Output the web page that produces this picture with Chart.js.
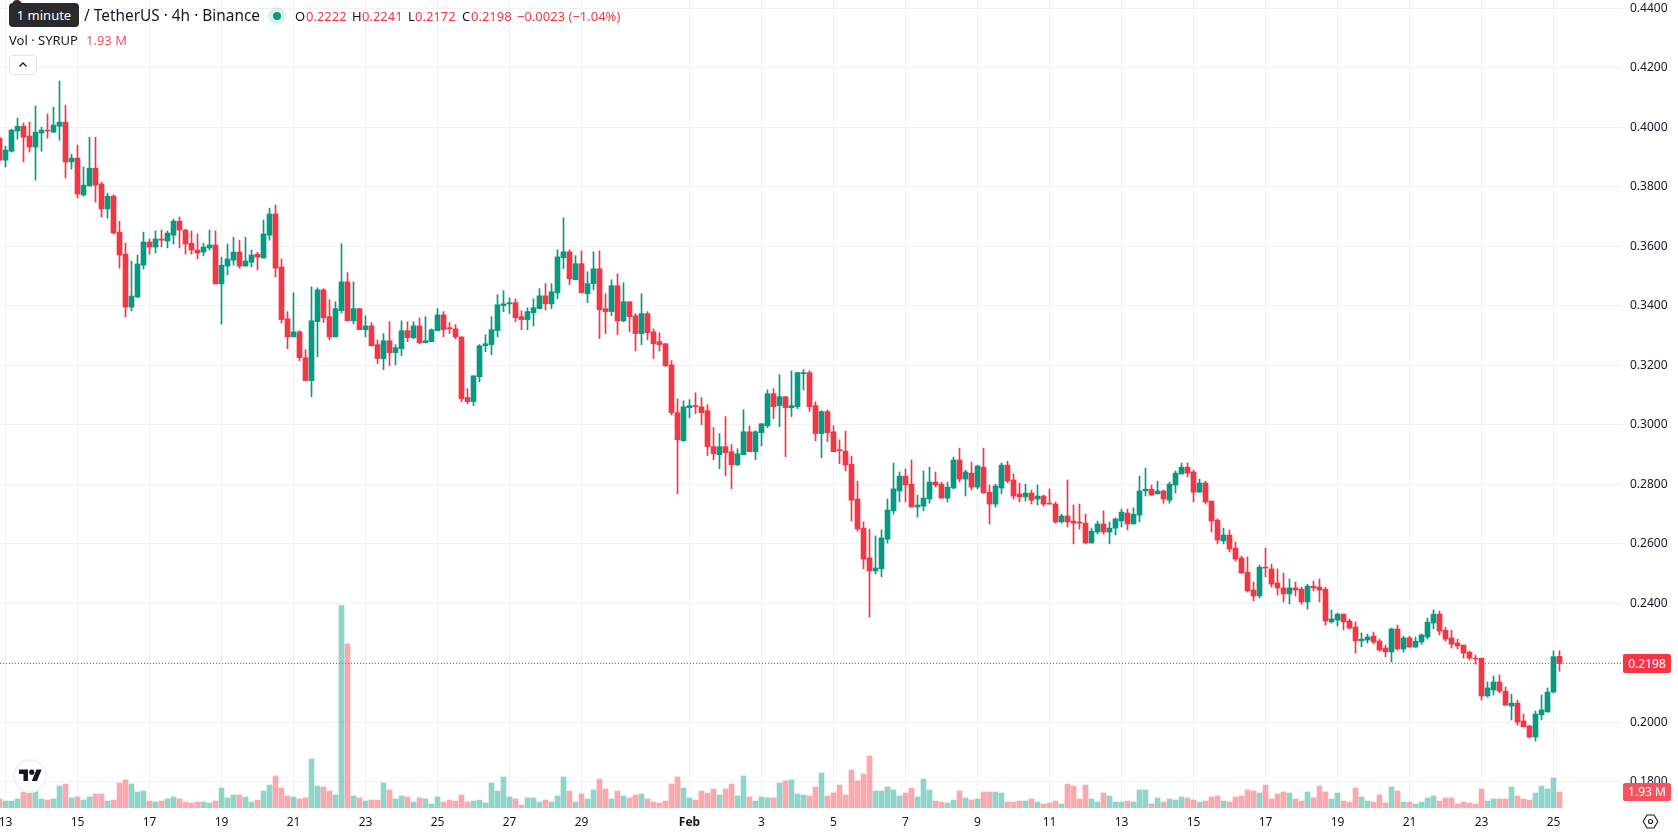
<!DOCTYPE html>
<html lang="en">
<head>
  <meta charset="UTF-8">
  <title>SYRUP / TetherUS 4h</title>
  <script src="https://cdn.jsdelivr.net/npm/chart.js"></script>
  <style>
    html, body { margin: 0; background: #fff; overflow: hidden; }
    body { width: 1678px; height: 835px; position: relative; font-family: "Noto Sans", sans-serif; color: #131722; }
    canvas { display: block; position: absolute; left: 0; top: 0; }
    .txt { position: absolute; white-space: nowrap; font-size: 13px; line-height: 18px; }
    .up { color: #f23645; }
    #hint { position: absolute; left: 9px; top: 3px; width: 70px; height: 24px; background: #2a2a2c; border-radius: 4px;
            color: #fff; font-size: 13px; line-height: 24px; text-align: center; }
    #hint:before { content: ""; position: absolute; left: 3px; top: -3px; width: 10px; height: 5px; background: #2a2a2c; border-radius: 5px 5px 0 0; }
    #dot { position: absolute; left: 268px; top: 7px; width: 18px; height: 18px; border-radius: 50%; background: rgba(8,153,129,.14); }
    #dot:after { content: ""; position: absolute; left: 5px; top: 5px; width: 8px; height: 8px; border-radius: 50%; background: #089981; }
    #toggle { position: absolute; left: 9px; top: 55px; width: 28px; height: 20px; border: 1px solid #e0e3eb; border-radius: 4px; box-sizing: border-box; background: #fff; }
    #logo { position: absolute; left: 13px; top: 759px; width: 34px; height: 34px; border-radius: 50%; background: #fff; border: 2px solid #f0f3fa; box-sizing: border-box; }
    .tag { position: absolute; left: 1623px; width: 48px; color: #fff; font-size: 12px; text-align: center; border-radius: 2px; }
  </style>
</head>
<body>
  <canvas id="chart" width="1678" height="835"></canvas>

  <div id="hint">1 minute</div>
  <div class="txt" style="left:84px;top:5px;font-size:15.4px;line-height:22px">/ TetherUS · 4h · Binance</div>
  <div id="dot"></div>
  <div class="txt" style="left:295px;top:7px">O</div><div class="txt up" id="o" style="left:306px;top:7px"></div>
  <div class="txt" style="left:352px;top:7px">H</div><div class="txt up" id="h" style="left:362px;top:7px"></div>
  <div class="txt" style="left:408px;top:7px">L</div><div class="txt up" id="l" style="left:415px;top:7px"></div>
  <div class="txt" style="left:462px;top:7px">C</div><div class="txt up" id="c" style="left:471px;top:7px"></div>
  <div class="txt up" id="chg" style="left:517px;top:7px"></div>
  <div class="txt" style="left:9px;top:31px">Vol · SYRUP</div>
  <div class="txt" id="vol" style="left:86px;top:31px;color:#f7525f"></div>
  <div id="toggle">
    <svg width="26" height="18" viewBox="0 0 26 18"><path d="M9.5 10.5 13 7l3.5 3.5" fill="none" stroke="#131722" stroke-width="1.3"/></svg>
  </div>
  <div id="logo">
    <svg style="position:absolute;left:4px;top:6px" width="23" height="18" viewBox="0 0 36 28" fill="#131722">
      <path d="M14 22H7V11H0V4h14v18zM28 22h-8l7.5-18h8L28 22z"/><circle cx="20" cy="8" r="4"/>
    </svg>
  </div>
  <div class="tag" id="lastTag" style="top:654px;height:19px;line-height:19px;background:#f23645"></div>
  <div class="tag" id="volTag" style="top:783px;height:18px;line-height:18px;background:#f7525f"></div>
  <svg style="position:absolute;left:1642px;top:813px" width="17" height="17" viewBox="0 0 17 17" fill="none" stroke="#131722" stroke-width="1.1">
    <path d="M5 2h7l3.8 6.5L12 15H5L1.2 8.5z"/><circle cx="8.5" cy="8.5" r="2"/>
  </svg>

  <script>
    // 4h candles, first one starts just before the 13th
    const firstIndex = -1;

    const opens = [
      .3964,.3890,.3920,.3988,.4004,.3971,.3934,.3981,.3991,.3984,.4004,.4018,
      .3884,.3897,.3773,.3803,.3863,.3810,.3726,.3769,.3648,.3574,.3396,.3430,
      .3537,.3615,.3598,.3625,.3618,.3638,.3685,.3655,.3611,.3588,.3581,.3595,
      .3605,.3474,.3534,.3554,.3581,.3534,.3547,.3574,.3561,.3638,.3709,.3531,
      .3357,.3296,.3313,.3226,.3149,.3347,.3454,.3364,.3296,.3384,.3481,.3350,
      .3391,.3320,.3333,.3270,.3223,.3283,.3243,.3256,.3317,.3293,.3333,.3276,
      .3280,.3317,.3370,.3327,.3323,.3296,.3092,.3078,.3162,.3266,.3270,.3317,
      .3401,.3407,.3411,.3364,.3354,.3377,.3391,.3434,.3407,.3444,.3562,.3582,
      .3488,.3542,.3441,.3475,.3525,.3391,.3381,.3468,.3350,.3414,.3367,.3307,
      .3374,.3313,.3280,.3273,.3202,.3041,.2947,.3058,.3065,.3061,.3048,.2927,
      .2900,.2927,.2910,.2866,.2900,.2977,.2910,.2974,.2997,.3105,.3065,.3095,
      .3058,.3061,.3172,.3176,.3065,.2971,.3045,.2977,.2917,.2912,.2868,.2751,
      .2653,.2553,.2509,.2516,.2616,.2711,.2778,.2828,.2801,.2724,.2727,.2751,
      .2808,.2801,.2754,.2788,.2882,.2818,.2838,.2791,.2858,.2774,.2734,.2788,
      .2865,.2815,.2768,.2758,.2771,.2751,.2761,.2737,.2734,.2674,.2694,.2677,
      .2674,.2670,.2603,.2640,.2667,.2640,.2653,.2677,.2704,.2667,.2697,.2778,
      .2784,.2768,.2778,.2747,.2798,.2835,.2858,.2842,.2774,.2805,.2744,.2680,
      .2610,.2630,.2586,.2553,.2505,.2445,.2425,.2522,.2516,.2469,.2452,.2432,
      .2452,.2448,.2405,.2458,.2455,.2448,.2338,.2344,.2364,.2341,.2321,.2274,
      .2277,.2290,.2274,.2250,.2237,.2314,.2247,.2284,.2253,.2270,.2287,.2334,
      .2364,.2310,.2284,.2267,.2260,.2236,.2216,.2216,.2089,.2109,.2136,.2105,
      .2055,.2065,.2005,.1988,.1951,.2025,.2035,.2102,.2222
    ];
    const highs = [
      .3969,.3937,.3994,.4031,.4015,.4018,.4072,.4001,.4045,.4068,.4156,.4075,
      .3910,.3941,.3867,.3967,.3967,.3816,.3779,.3773,.3685,.3611,.3551,.3571,
      .3648,.3625,.3652,.3655,.3652,.3692,.3699,.3658,.3652,.3642,.3611,.3655,
      .3652,.3564,.3608,.3631,.3621,.3631,.3588,.3581,.3689,.3729,.3739,.3558,
      .3381,.3444,.3317,.3253,.3464,.3461,.3458,.3421,.3414,.3609,.3512,.3481,
      .3391,.3367,.3344,.3286,.3307,.3347,.3270,.3350,.3347,.3347,.3360,.3364,
      .3323,.3391,.3381,.3344,.3337,.3296,.3122,.3165,.3270,.3303,.3364,.3438,
      .3451,.3427,.3424,.3384,.3394,.3424,.3458,.3475,.3475,.3589,.3696,.3589,
      .3569,.3585,.3515,.3582,.3585,.3441,.3488,.3508,.3478,.3414,.3374,.3441,
      .3381,.3323,.3310,.3273,.3216,.3088,.3081,.3085,.3108,.3092,.3068,.2991,
      .2971,.3028,.2934,.2920,.3051,.2997,.2981,.3004,.3118,.3122,.3169,.3095,
      .3182,.3176,.3186,.3182,.3078,.3048,.3051,.2997,.2950,.2979,.2895,.2811,
      .2674,.2650,.2627,.2647,.2751,.2872,.2842,.2852,.2882,.2764,.2845,.2858,
      .2842,.2808,.2808,.2892,.2922,.2848,.2875,.2865,.2922,.2798,.2801,.2872,
      .2878,.2835,.2805,.2801,.2781,.2798,.2764,.2785,.2741,.2700,.2815,.2731,
      .2734,.2700,.2653,.2677,.2711,.2674,.2687,.2717,.2717,.2721,.2828,.2855,
      .2798,.2811,.2781,.2808,.2845,.2872,.2872,.2848,.2818,.2811,.2744,.2684,
      .2653,.2647,.2606,.2559,.2556,.2472,.2529,.2586,.2532,.2516,.2502,.2482,
      .2472,.2455,.2465,.2475,.2482,.2455,.2378,.2368,.2364,.2348,.2338,.2301,
      .2297,.2304,.2280,.2260,.2317,.2327,.2290,.2290,.2287,.2297,.2351,.2378,
      .2374,.2320,.2310,.2280,.2260,.2240,.2226,.2216,.2136,.2156,.2159,.2119,
      .2095,.2075,.2028,.1991,.2038,.2092,.2116,.2240,.2241
    ];
    const lows = [
      .3885,.3867,.3917,.3961,.3884,.3917,.3823,.3920,.3964,.3984,.3957,.3830,
      .3860,.3763,.3769,.3803,.3749,.3699,.3695,.3642,.3527,.3363,.3383,.3427,
      .3524,.3574,.3578,.3598,.3595,.3608,.3595,.3574,.3574,.3558,.3568,.3588,
      .3474,.3339,.3504,.3537,.3527,.3534,.3531,.3521,.3561,.3621,.3497,.3343,
      .3256,.3296,.3216,.3149,.3095,.3229,.3344,.3286,.3296,.3377,.3350,.3340,
      .3320,.3296,.3266,.3206,.3186,.3199,.3202,.3233,.3280,.3290,.3273,.3276,
      .3280,.3317,.3296,.3307,.3290,.3078,.3071,.3065,.3145,.3246,.3236,.3296,
      .3381,.3374,.3347,.3320,.3320,.3333,.3391,.3387,.3391,.3424,.3525,.3471,
      .3488,.3444,.3411,.3454,.3290,.3307,.3367,.3303,.3347,.3313,.3249,.3270,
      .3286,.3223,.3249,.3196,.3034,.2769,.2944,.3024,.3038,.3001,.2897,.2883,
      .2853,.2829,.2786,.2863,.2900,.2910,.2883,.2930,.2991,.3021,.2994,.2893,
      .3028,.3055,.3118,.3045,.2947,.2890,.2944,.2910,.2870,.2845,.2677,.2643,
      .2516,.2354,.2499,.2489,.2603,.2700,.2741,.2741,.2724,.2690,.2711,.2737,
      .2791,.2754,.2741,.2785,.2808,.2761,.2781,.2785,.2771,.2667,.2724,.2768,
      .2805,.2751,.2741,.2744,.2734,.2731,.2727,.2734,.2670,.2670,.2657,.2600,
      .2650,.2600,.2603,.2633,.2633,.2600,.2630,.2657,.2647,.2667,.2674,.2761,
      .2764,.2768,.2737,.2737,.2771,.2835,.2825,.2741,.2774,.2734,.2640,.2600,
      .2600,.2573,.2542,.2502,.2438,.2408,.2418,.2489,.2455,.2428,.2405,.2398,
      .2425,.2398,.2381,.2442,.2405,.2327,.2334,.2324,.2311,.2314,.2233,.2254,
      .2267,.2264,.2240,.2220,.2203,.2243,.2236,.2253,.2253,.2263,.2280,.2314,
      .2294,.2273,.2250,.2247,.2216,.2210,.2196,.2075,.2085,.2092,.2099,.2058,
      .2008,.1991,.1985,.1948,.1937,.2008,.2035,.2099,.2172
    ];
    const closes = [
      .3890,.3924,.3991,.4004,.3967,.3934,.3984,.3991,.3988,.4008,.4018,.3884,
      .3897,.3776,.3806,.3863,.3806,.3726,.3769,.3645,.3571,.3396,.3433,.3541,
      .3615,.3598,.3625,.3621,.3645,.3685,.3655,.3608,.3588,.3578,.3598,.3605,
      .3474,.3537,.3558,.3581,.3534,.3551,.3571,.3564,.3642,.3709,.3527,.3354,
      .3296,.3313,.3226,.3149,.3350,.3454,.3360,.3296,.3391,.3481,.3350,.3391,
      .3320,.3333,.3266,.3223,.3283,.3243,.3260,.3317,.3293,.3333,.3276,.3283,
      .3320,.3370,.3320,.3323,.3296,.3088,.3078,.3165,.3266,.3273,.3320,.3404,
      .3407,.3411,.3360,.3354,.3381,.3394,.3434,.3407,.3448,.3565,.3582,.3491,
      .3542,.3444,.3475,.3525,.3387,.3381,.3468,.3350,.3414,.3364,.3307,.3374,
      .3310,.3273,.3270,.3199,.3041,.2950,.3061,.3065,.3061,.3041,.2927,.2903,
      .2927,.2907,.2866,.2903,.2977,.2910,.2977,.3004,.3105,.3061,.3095,.3058,
      .3065,.3176,.3176,.3061,.2971,.3045,.2974,.2910,.2913,.2865,.2747,.2650,
      .2549,.2509,.2519,.2620,.2714,.2785,.2828,.2798,.2724,.2731,.2754,.2808,
      .2798,.2754,.2791,.2882,.2818,.2842,.2791,.2862,.2771,.2734,.2795,.2865,
      .2811,.2761,.2758,.2771,.2747,.2761,.2734,.2734,.2674,.2694,.2674,.2670,
      .2670,.2603,.2643,.2667,.2640,.2653,.2684,.2707,.2667,.2700,.2778,.2784,
      .2764,.2778,.2751,.2801,.2838,.2858,.2838,.2774,.2805,.2741,.2677,.2613,
      .2630,.2583,.2549,.2502,.2442,.2425,.2522,.2519,.2465,.2452,.2432,.2452,
      .2445,.2405,.2458,.2452,.2445,.2341,.2348,.2364,.2338,.2317,.2274,.2280,
      .2287,.2270,.2243,.2237,.2314,.2247,.2284,.2253,.2273,.2294,.2337,.2364,
      .2307,.2280,.2263,.2257,.2233,.2216,.2213,.2089,.2116,.2136,.2105,.2058,
      .2065,.2001,.1985,.1951,.2028,.2042,.2102,.2221,.2198
    ];
    // volume in millions of SYRUP
    const volumes = [
      1.09,.84,.84,1.09,1.93,1.81,2.05,1.09,.96,1.09,2.65,2.89,
      1.21,1.33,.96,1.33,1.69,1.69,.84,.96,3.02,3.38,2.89,1.93,
      2.05,.84,.72,.84,1.09,1.33,1.09,.72,.60,.72,.72,.60,
      .84,2.41,1.21,1.57,1.57,1.33,.72,.96,2.05,2.77,3.86,2.41,
      1.45,1.33,1.09,1.21,5.91,2.65,2.53,2.05,1.57,24.4,19.8,1.45,
      1.21,.84,.96,.96,3.02,2.17,1.09,1.45,1.33,.72,1.21,1.09,
      .48,1.33,.72,.96,.84,1.57,.72,.84,.96,.60,3.02,2.05,
      3.74,1.33,1.09,.36,1.21,1.21,.72,.96,.72,1.45,3.74,2.05,
      .72,1.69,1.09,2.17,3.50,2.29,1.09,2.05,1.45,1.21,1.57,1.69,
      1.09,.72,.60,.84,2.89,3.74,2.41,1.21,.96,2.05,1.81,2.29,
      1.57,2.29,2.89,1.45,3.86,1.33,.84,1.33,1.21,1.21,3.02,3.26,
      3.38,1.69,1.57,1.45,2.53,4.22,1.45,1.81,2.77,1.57,4.58,3.26,
      4.10,6.27,2.05,2.05,2.53,2.17,1.45,1.81,2.41,1.33,3.50,2.17,
      .84,.72,.60,.96,2.05,1.21,.96,1.09,1.93,1.93,1.93,1.81,
      .72,.72,.84,.84,1.09,.72,.48,.60,.84,.48,2.89,2.65,
      1.09,2.77,1.09,.72,1.81,1.45,.72,.72,.84,.72,2.17,2.17,
      .48,1.21,.72,1.09,.96,1.33,1.21,.96,.72,.84,1.33,1.45,
      .84,.72,1.33,1.45,2.17,2.05,1.81,2.77,1.09,1.69,1.93,1.81,
      1.09,.84,1.93,1.21,2.65,1.93,1.09,1.81,.84,.72,2.41,1.33,
      .84,.72,1.57,.60,2.53,2.05,.72,.72,.48,.72,1.21,1.45,
      .84,1.21,1.21,.48,.72,.60,.48,2.29,.84,1.09,1.09,1.09,
      2.53,1.45,1.09,.96,1.81,2.65,2.29,3.62,1.93
    ];

    const dayLabels  = ['13','15','17','19','21','23','25','27','29','Feb','3','5','7','9','11','13','15','17','19','21','23','25'];
    const dayIndexes = [0,12,24,36,48,60,72,84,96,114,126,138,150,162,174,186,198,210,222,234,246,258];
    const priceTicks = [.18,.20,.22,.24,.26,.28,.30,.32,.34,.36,.38,.40,.42,.44];

    const UP = '#089981', DOWN = '#f23645';
    const FONT = '"Noto Sans", sans-serif';

    const last = opens.length - 1;
    const lastClose = closes[last];
    const prevClose = closes[last - 1];
    const lastVolume = volumes[last];

    // pane is 1622px wide with 6px per candle, the 13th sits at x=5.5
    const xMin = -5.5 / 6;
    const xMax = (1622 - 5.5) / 6;

    const xOf = i => firstIndex + i;
    const isUp = i => closes[i] >= opens[i];

    const datasets = [
      {
        type: 'line',
        data: [{ x: xMin, y: lastClose }, { x: xMax, y: lastClose }],
        yAxisID: 'y',
        borderColor: DOWN,
        borderWidth: 1,
        borderDash: [1, 2],
        pointRadius: 0,
        order: 0
      },
      {
        data: opens.map((o, i) => ({ x: xOf(i), y: [o, closes[i]] })),
        yAxisID: 'y',
        backgroundColor: opens.map((o, i) => isUp(i) ? UP : DOWN),
        barThickness: 5,
        grouped: false,
        order: 1
      },
      {
        data: highs.map((h, i) => ({ x: xOf(i), y: [lows[i], h] })),
        yAxisID: 'y',
        backgroundColor: opens.map((o, i) => isUp(i) ? UP : DOWN),
        barThickness: 1,
        grouped: false,
        order: 2
      },
      {
        data: volumes.map((v, i) => ({ x: xOf(i), y: v })),
        yAxisID: 'yVol',
        backgroundColor: opens.map((o, i) => isUp(i) ? 'rgba(34,171,148,.5)' : 'rgba(247,82,95,.5)'),
        barThickness: 5,
        grouped: false,
        order: 3
      }
    ];

    new Chart(document.getElementById('chart'), {
      type: 'bar',
      data: { datasets },
      options: {
        responsive: false,
        animation: false,
        events: [],
        layout: { padding: 0 },
        plugins: { legend: { display: false }, tooltip: { enabled: false } },
        scales: {
          x: {
            type: 'linear',
            min: xMin,
            max: xMax,
            offset: false,
            afterBuildTicks: s => { s.ticks = dayIndexes.map(v => ({ value: v })); },
            // edge labels may hang over the canvas, keep the pane full width
            afterFit: s => { s.height = 27; s.paddingLeft = 0; s.paddingRight = 0; },
            border: { display: false },
            grid: { offset: false, color: '#f0f1f3', drawTicks: false },
            ticks: {
              autoSkip: false,
              maxRotation: 0,
              padding: 7,
              color: '#131722',
              font: ctx => ({ family: FONT, size: 12, weight: ctx.tick && ctx.tick.value === 114 ? 'bold' : 'normal' }),
              callback: v => dayLabels[dayIndexes.indexOf(v)]
            }
          },
          y: {
            position: 'right',
            min: .17123,
            max: .44284,
            afterBuildTicks: s => { s.ticks = priceTicks.map(v => ({ value: v })); },
            afterFit: s => { s.width = 56; s.paddingTop = 0; s.paddingBottom = 0; },
            border: { display: false },
            grid: { color: '#f0f1f3', drawTicks: false },
            ticks: {
              autoSkip: false,
              padding: 8,
              color: '#131722',
              font: { family: FONT, size: 12 },
              callback: v => v.toFixed(4)
            }
          },
          // volume overlay, shares the pane with price
          yVol: { display: false, min: 0, max: 97.4 }
        }
      }
    });

    // legend line and axis tags
    const change = lastClose - prevClose;
    const pct = change / prevClose * 100;
    const fmt = v => v.toFixed(4);
    document.getElementById('o').textContent = fmt(opens[last]);
    document.getElementById('h').textContent = fmt(highs[last]);
    document.getElementById('l').textContent = fmt(lows[last]);
    document.getElementById('c').textContent = fmt(lastClose);
    document.getElementById('chg').textContent = '\u2212' + fmt(Math.abs(change)) + ' (\u2212' + Math.abs(pct).toFixed(2) + '%)';
    document.getElementById('vol').textContent = lastVolume.toFixed(2) + ' M';
    document.getElementById('lastTag').textContent = fmt(lastClose);
    document.getElementById('volTag').textContent = lastVolume.toFixed(2) + ' M';
  </script>
</body>
</html>
